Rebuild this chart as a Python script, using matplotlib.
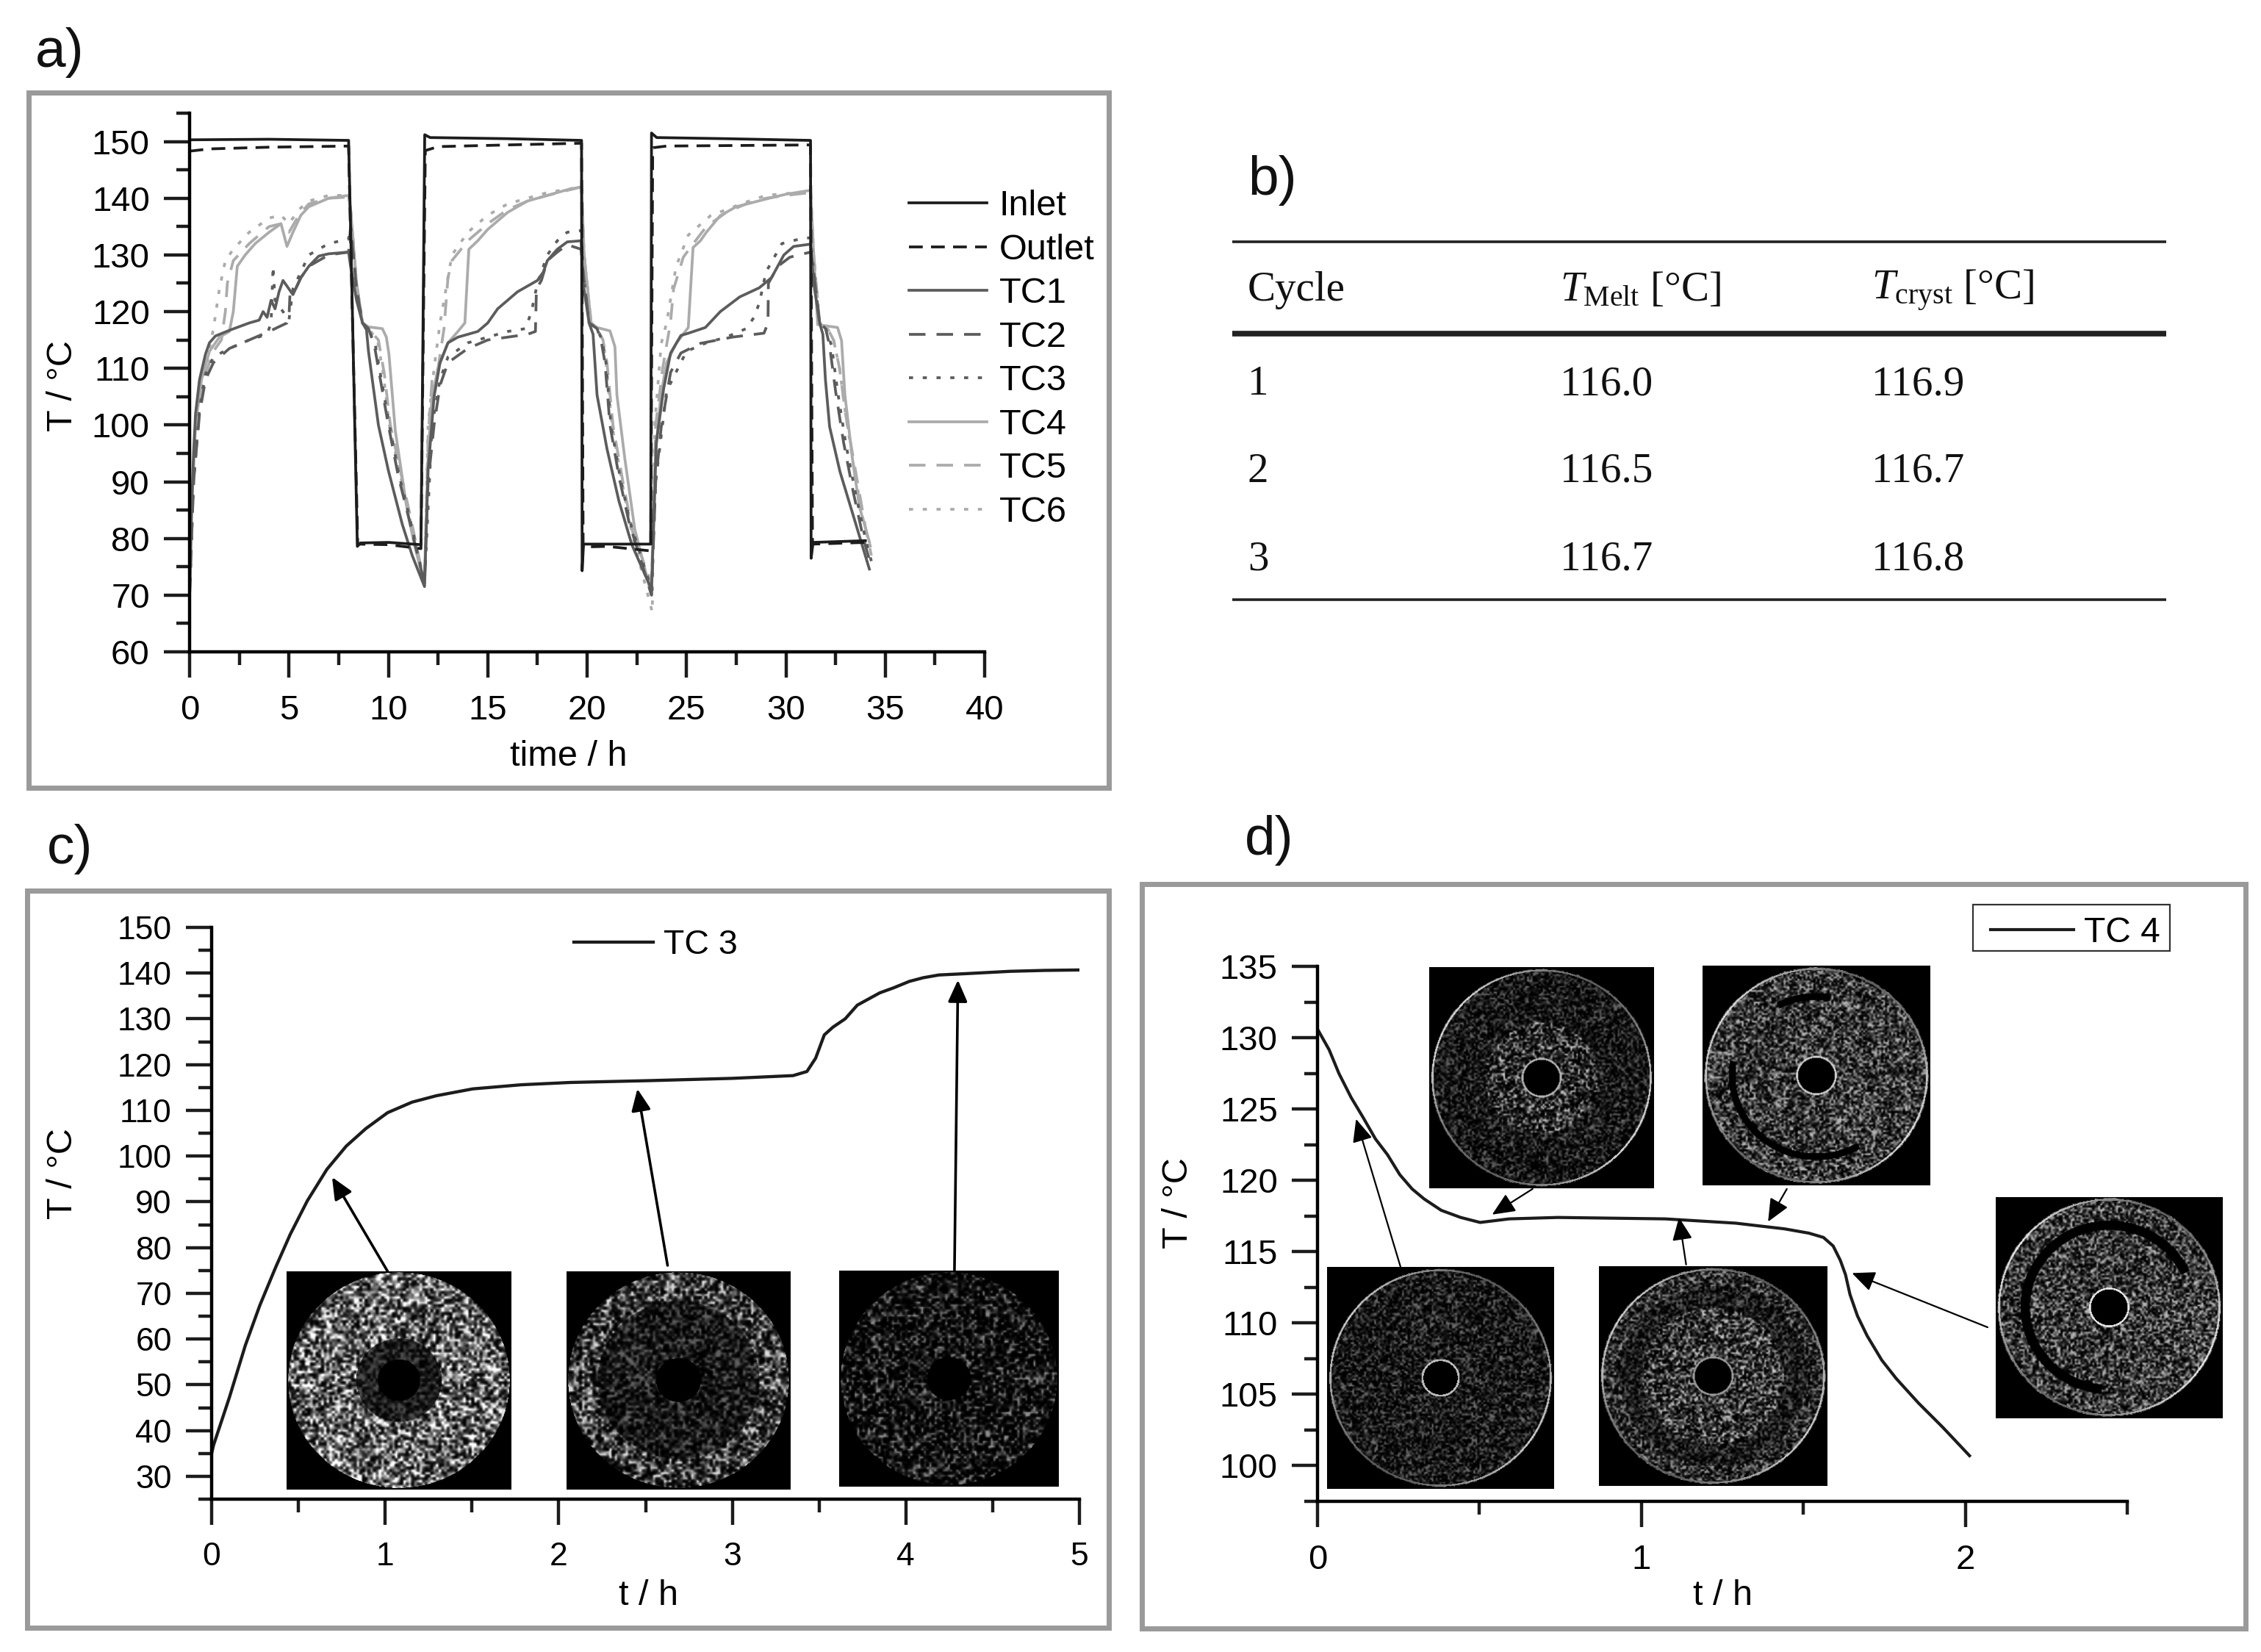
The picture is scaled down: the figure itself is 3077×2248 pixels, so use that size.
import numpy as np
import matplotlib
matplotlib.use("Agg")
import matplotlib.pyplot as plt
from matplotlib.patches import Rectangle
from matplotlib.ticker import MultipleLocator

plt.rcParams['font.family'] = ['Liberation Sans', 'DejaVu Sans']
plt.rcParams['mathtext.fontset'] = 'custom'
plt.rcParams['mathtext.rm'] = 'Liberation Serif'
plt.rcParams['mathtext.it'] = 'Liberation Serif:italic'

W, H = 3077, 2248
DARK = '#1c1c1c'
MID = '#5c5c5c'
LIGHT = '#ababab'

# panel a: (time / h, T / degC)
inlet = [(0, 150.3), (4, 150.4), (8.0, 150.2), (8.1, 135), (8.44, 78.6), (8.6, 79.2), (10, 79.3), (11.64, 78.9),
         (11.7, 100), (11.83, 151.2), (12.1, 150.7), (16, 150.5), (19.72, 150.2), (19.75, 74.3), (19.82, 79), (23.2, 79),
         (23.24, 151.5), (23.5, 150.7), (27, 150.5), (31.24, 150.2), (31.27, 76.5), (31.37, 79.3), (34, 79.6)]
outlet = [(0, 148.3), (1, 148.7), (4, 149), (8.0, 149.2), (8.12, 130), (8.46, 79), (10, 78.9), (11.64, 78.2),
          (11.86, 148.4), (12.5, 149.1), (16, 149.4), (19.72, 149.7), (19.8, 78.5), (21, 78.6), (23.2, 77.8),
          (23.3, 148.9), (24, 149.2), (31.24, 149.4), (31.34, 79), (34, 79.3)]
tc1 = [(0, 70), (0.1, 85), (0.2, 95), (0.3, 102), (0.5, 108), (0.8, 112.5), (1, 114.5), (1.3, 115.7), (2, 116.7), (3, 118),
       (3.5, 118.5), (3.7, 120), (3.9, 119), (4.1, 122), (4.3, 120.5), (4.5, 123.5), (4.7, 125.5), (4.9, 124.5), (5.2, 123),
       (5.6, 126), (6, 128), (6.5, 129.8), (7, 130.2), (8, 130.5), (8.1, 128), (8.4, 122), (8.7, 118), (8.9, 116.8), (9, 113),
       (9.5, 100), (10, 92), (10.7, 82.5), (11.2, 77), (11.82, 71.5),
       (12, 92), (12.3, 105), (12.6, 111), (13, 114.5), (13.5, 115.5), (14.5, 116.5), (15, 118), (15.5, 120.5), (16, 122),
       (16.5, 123.5), (17, 124.5), (17.5, 125.5), (17.8, 127), (18, 129), (18.5, 131), (19, 132.3), (19.7, 132.5),
       (19.8, 125), (20.1, 118), (20.3, 116), (20.5, 105.3), (21, 95.8), (21.6, 86.6), (22.25, 78.9), (23.24, 71),
       (23.48, 96.9), (23.85, 106.4), (24.2, 112.7), (24.72, 115.8), (25.1, 116.2), (25.95, 117.2), (26.7, 120), (27.68, 122.6),
       (28.66, 124.2), (29.28, 126), (29.9, 130), (30.39, 131.5), (31.24, 131.9),
       (31.4, 125), (31.7, 118), (31.86, 116), (31.99, 108), (32.2, 99.7), (32.72, 91.8), (33.35, 84.5), (34.2, 74.6)]
tc2 = [(0, 70), (0.2, 90), (0.5, 102), (0.8, 108), (1.2, 111), (2, 113.5), (3, 115), (4, 116.5), (4.9, 118), (5, 119),
       (5.05, 123), (5.2, 123), (5.6, 126), (6, 128), (7, 130), (8, 130.5), (8.1, 135), (8.4, 124), (8.7, 118), (9, 117),
       (9.3, 114), (9.6, 108), (10, 100), (10.5, 91), (11, 84), (11.82, 72),
       (12, 90), (12.3, 100), (12.6, 107), (13, 111), (14, 113.5), (15, 115), (16, 115.5), (17, 116), (17.4, 116.5),
       (17.45, 124), (17.7, 125.5), (18, 129), (18.5, 130.5), (19, 131.8), (19.7, 131),
       (19.8, 127), (20.1, 118), (20.5, 117), (20.7, 115), (20.9, 111), (21.15, 100), (21.6, 91), (22.1, 83), (23.24, 70),
       (23.45, 90), (23.73, 99.7), (24.2, 109.3), (24.72, 112.7), (25.7, 114.4), (27.3, 115.5), (28.9, 116.2),
       (29.1, 118), (29.12, 125), (29.6, 128), (30.2, 129.6), (31.24, 130.5),
       (31.4, 127), (31.7, 118), (32, 117), (32.2, 114), (32.5, 106), (32.9, 97), (33.4, 88), (33.9, 80), (34.3, 75)]
tc3 = [(0, 70), (0.2, 90), (0.5, 103), (0.8, 109), (1.2, 112), (2, 113.5), (3, 115), (3.9, 116), (4.1, 118), (4.2, 128),
       (4.3, 122), (5, 118.5), (5.2, 124), (5.6, 127), (6, 130), (7, 132), (8, 132.8), (8.1, 135), (8.4, 124), (8.7, 118),
       (9, 117), (9.35, 114), (9.65, 108), (10.05, 100), (10.55, 91), (11.05, 84), (11.82, 72),
       (12.2, 100), (12.6, 108), (13, 112), (14, 114.5), (15, 115.5), (16, 116.5), (16.9, 117), (17.2, 120), (17.5, 125),
       (18, 130), (18.5, 132.5), (19, 134), (19.7, 134.3), (19.8, 127), (20.1, 118), (20.5, 117), (20.75, 115), (20.95, 111),
       (21.2, 100), (21.65, 91), (22.15, 83), (23.24, 71),
       (23.45, 90), (24, 106), (25, 113), (26, 114.5), (27, 115.5), (28, 117), (28.4, 119), (28.67, 121.6), (29, 127),
       (29.8, 132), (30.9, 133), (31.24, 133), (31.4, 127), (31.7, 118), (32, 117), (32.3, 114), (32.6, 106), (33, 97),
       (33.5, 88), (34, 80), (34.3, 76)]
tc4 = [(0, 70), (0.1, 85), (0.3, 100), (0.6, 108), (1, 113), (1.5, 115.5), (2, 116.5), (2.2, 120), (2.4, 128), (2.8, 130),
       (3.3, 132), (4, 134), (4.6, 135.5), (4.9, 131.5), (5.2, 134), (5.6, 137), (6, 138.5), (7, 140), (8, 140.5),
       (8.1, 138), (8.4, 125), (8.7, 118), (9, 117.3), (9.7, 117), (9.9, 115.5), (10.03, 112.5), (10.35, 99), (10.9, 86),
       (11.3, 79), (11.82, 72),
       (12, 95), (12.2, 105), (12.5, 110), (13, 114.5), (13.5, 116.5), (13.85, 118), (14.05, 131), (14.5, 132.5),
       (15, 134.5), (16, 137.5), (17, 139.5), (18, 140.5), (19, 141.5), (19.72, 142),
       (19.85, 130), (20.2, 118), (20.5, 117.2), (21.15, 116.6), (21.4, 113.8), (21.5, 105.3), (21.9, 94), (22.4, 81.6), (23.24, 70),
       (23.45, 95), (23.7, 105), (24, 111), (24.5, 114.5), (25.09, 117.2), (25.33, 131.3), (25.7, 132.5), (26, 134),
       (26.69, 136.9), (27.5, 138.5), (29.16, 140), (30, 140.7), (31.24, 141.4),
       (31.4, 130), (31.6, 117.7), (32.6, 117.2), (32.8, 114.9), (32.97, 105.3), (33.35, 94), (33.7, 85.6), (34.2, 79.4)]
tc5 = [(0, 70), (0.2, 90), (0.5, 103), (0.8, 109), (1.2, 113), (1.6, 115), (1.8, 120), (1.9, 125), (2.2, 129), (3, 132),
       (4, 135), (4.6, 135.5), (5, 134), (5.5, 137), (6, 139), (7, 140), (8, 140.2), (8.1, 138), (8.4, 125), (8.7, 118),
       (9, 117), (9.5, 115), (9.8, 109), (10.1, 100), (10.6, 92), (11.1, 84), (11.82, 72),
       (12, 98), (12.2, 108), (12.5, 110), (12.8, 117), (13, 126), (13.2, 129), (14, 132.5), (15, 135.5), (16, 138),
       (17, 139.5), (18, 140.5), (19.72, 142), (19.85, 130), (20.2, 118), (20.5, 117), (20.8, 115), (21, 111), (21.3, 100),
       (21.8, 90), (22.3, 81), (23.24, 72),
       (23.45, 100), (23.8, 110), (24.2, 118.2), (24.35, 124), (24.84, 129.6), (25.3, 131.8), (26, 135), (27, 137.5), (28, 139),
       (29, 140), (30, 140.5), (31.24, 141), (31.4, 130), (31.7, 118), (32.1, 117), (32.4, 115), (32.7, 110), (33, 102),
       (33.5, 92), (34, 82), (34.3, 77)]
tc6 = [(0, 70), (0.2, 92), (0.5, 104), (0.8, 110), (1.2, 117), (1.5, 124), (1.8, 129), (2.2, 131), (3, 134), (4, 136.5),
       (4.6, 137), (5, 135.5), (5.5, 138), (6, 139.5), (7, 140.5), (8, 140.5), (8.1, 138), (8.4, 125), (8.7, 118),
       (9, 117), (9.45, 115), (9.75, 109), (10.05, 100), (10.55, 92), (11.05, 84), (11.82, 72),
       (12, 100), (12.3, 110), (12.6, 118), (12.9, 124), (13.2, 130), (14, 134), (15, 137), (16, 139), (17, 140), (18, 141),
       (19.72, 142), (19.85, 130), (20.2, 118), (20.5, 117), (20.8, 115), (20.95, 111), (21.25, 100), (21.75, 90), (22.25, 81),
       (23.28, 67),
       (23.4, 100), (23.73, 114.4), (24, 118), (24.47, 127.9), (25.09, 133.5), (26.2, 136.9), (27.9, 139.2), (29, 140.5),
       (31.24, 141.2), (31.4, 130), (31.7, 118), (32.1, 117), (32.4, 115), (32.7, 110), (33, 102), (33.4, 93),
       (33.9, 83), (34.3, 78)]

# panel b
cycles = ['1', '2', '3']
t_melt = ['116.0', '116.5', '116.7']
t_cryst = ['116.9', '116.7', '116.8']

# panel c
tc3_time = [0, 0.011, 0.102, 0.194, 0.278, 0.369, 0.453, 0.551, 0.664, 0.776, 0.888, 1.014, 1.155, 1.295, 1.505, 1.785,
            2.066, 2.52, 3.0, 3.35, 3.43, 3.48, 3.53, 3.58, 3.65, 3.72, 3.85, 3.93, 4.02, 4.1, 4.19, 4.35, 4.6, 4.8, 5]
tc3_temp = [35, 36.8, 47.2, 58.6, 67.4, 75.7, 82.9, 90.2, 97.1, 102.2, 106, 109.5, 111.8, 113.2, 114.7, 115.6,
            116.1, 116.5, 117, 117.6, 118.5, 121.4, 126.5, 128.2, 130, 133, 135.7, 136.8, 138.2, 139, 139.6, 139.9, 140.4,
            140.6, 140.7]
c_arrow_tail = [(1.014, 74.8), (2.627, 76.1), (4.28, 75)]
c_arrow_tip = [(0.694, 95.4), (2.453, 114.7), (4.3, 138.5)]

# panel d
tc4_time = [0, 0.036, 0.066, 0.104, 0.141, 0.179, 0.216, 0.254, 0.292, 0.329, 0.382, 0.442, 0.502, 0.592, 0.742, 1.073,
            1.291, 1.366, 1.442, 1.517, 1.562, 1.592, 1.614, 1.63, 1.644, 1.667, 1.697, 1.742, 1.787, 1.855, 1.93, 2.013]
tc4_temp = [130.6, 129.15, 127.5, 125.8, 124.4, 122.9, 121.8, 120.4, 119.4, 118.7, 117.9, 117.4, 117.05, 117.3, 117.4, 117.3,
            117, 116.8, 116.6, 116.3, 116, 115.4, 114.4, 113.4, 112, 110.5, 109.1, 107.4, 106.1, 104.4, 102.7, 100.7]
d_arrow_tail = [(0.256, 113.96), (0.664, 119.4), (1.138, 114.1), (1.449, 119.4), (2.069, 109.7)]
d_arrow_tip = [(0.119, 124.3), (0.539, 117.6), (1.116, 117.4), (1.391, 117.1), (1.65, 113.5)]

fig = plt.figure(figsize=(W / 100, H / 100), dpi=100, facecolor='white')


def px_axes(left, top, right, bottom, **kw):
    return fig.add_axes([left / W, 1 - bottom / H, (right - left) / W, (bottom - top) / H], **kw)


# whole figure in pixels, for the frames, panel letters and table
page = px_axes(0, 0, W, H, zorder=0)
page.set_xlim(0, W)
page.set_ylim(H, 0)
page.axis('off')

for x0, y0, x1, y1 in [(39, 126, 1509, 1072), (37, 1212, 1509, 2215), (1554, 1203, 3056, 2216)]:
    page.add_patch(Rectangle((x0, y0), x1 - x0, y1 - y0, fill=False, ec='#9a9a9a', lw=5))

for s, x, y in [('a)', 48, 71), ('b)', 1698, 246), ('c)', 64, 1156), ('d)', 1694, 1143)]:
    page.text(x, y, s, fontsize=54, va='center', ha='left', color='#111111')

# table b
for y, lw in [(329, 2.6), (454, 5.5), (816, 2.6)]:
    page.plot([1677, 2948], [y, y], color='#222222', lw=lw, solid_capstyle='butt')
serif = dict(fontsize=41, family='Liberation Serif', va='center', ha='left', color='#111111')
page.text(1698, 395, 'Cycle', **serif)
page.text(2123, 395, r'$\mathit{T}_{\mathrm{Melt}}$ [°C]', **serif)
page.text(2547, 395, r'$\mathit{T}_{\mathrm{cryst}}$ [°C]', **serif)
for i, y in enumerate([523, 642, 762]):
    page.text(1698, y, cycles[i], **serif)
    page.text(2123, y, t_melt[i], **serif)
    page.text(2547, y, t_cryst[i], **serif)


def style_axes(ax, fs):
    ax.patch.set_visible(False)
    ax.spines['top'].set_visible(False)
    ax.spines['right'].set_visible(False)
    ax.spines['left'].set_linewidth(3.2)
    ax.spines['bottom'].set_linewidth(3.2)
    ax.tick_params(which='major', length=25, width=3.2, labelsize=fs, pad=14, color=DARK)
    ax.tick_params(which='minor', length=13, width=3.2, color=DARK)
    ax.tick_params(axis='x', which='major', pad=17)


# panel a
ax_a = px_axes(258, 154, 1340, 887, zorder=2)
style_axes(ax_a, 34)
a_styles = [(inlet, 'Inlet', DARK, '-'), (outlet, 'Outlet', DARK, (0, (5, 3))),
            (tc1, 'TC1', MID, '-'), (tc2, 'TC2', MID, (0, (6, 4))), (tc3, 'TC3', MID, (0, (1.5, 3.5))),
            (tc4, 'TC4', LIGHT, '-'), (tc5, 'TC5', LIGHT, (0, (6, 4))), (tc6, 'TC6', LIGHT, (0, (1.5, 3.5)))]
handles = []
for pts, name, col, ls in a_styles[::-1]:
    tt, vv = np.array(pts).T
    ln, = ax_a.plot(tt, vv, color=col, ls=ls, lw=2.7, label=name)
    handles.insert(0, ln)
ax_a.set_xlim(0, 40)
ax_a.set_ylim(60, 155)
ax_a.xaxis.set_major_locator(MultipleLocator(5))
ax_a.xaxis.set_minor_locator(MultipleLocator(2.5))
ax_a.yaxis.set_major_locator(MultipleLocator(10))
ax_a.yaxis.set_minor_locator(MultipleLocator(5))
fig.legend(handles=handles, fontsize=35, frameon=False, loc='upper left', bbox_to_anchor=(1237 / W, 1 - 258 / H),
           borderpad=0, borderaxespad=0, labelspacing=0.3, handlelength=2.18, handletextpad=0.35)
page.text(86, 525, 'T / °C', fontsize=35, rotation=90, ha='center', va='center')
page.text(774, 1029, 'time / h', fontsize=35, ha='center', va='center')


def upsample(a, size):
    old = np.linspace(0, 1, a.shape[0])
    new = np.linspace(0, 1, size)
    rows = np.array([np.interp(new, old, row) for row in a])
    return np.array([np.interp(new, old, col) for col in rows.T]).T


# speckled disc pictures: zones give (outer radius, brightness) from the hole outwards
def disc_picture(seed, zones, hole=0.17, rim=0.0, hole_rim=0.0, gaps=(), cell=3.0, power=2.5, size=300):
    n = int(size / cell)
    yy, xx = np.mgrid[0:n, 0:n]
    hash_val = np.sin(xx * 12.9898 + yy * 78.233 + seed * 37.719) * 43758.5453
    noise = upsample(hash_val - np.floor(hash_val), size)
    yy, xx = np.mgrid[0:size, 0:size]
    u = (xx + 0.5) / size * 2 - 1
    v = (yy + 0.5) / size * 2 - 1
    r = np.hypot(u, v)
    ang = np.degrees(np.arctan2(-v, u)) % 360
    level = np.zeros_like(r)
    inner = hole
    for outer, b in zones:
        level[(r >= inner) & (r < outer)] = b
        inner = outer
    img = np.clip(noise ** power * 1.25, 0, 1) * level
    for g_r, g_w, a0, a1 in gaps:
        arc = (np.abs(r - g_r) < g_w) & (((ang - a0) % 360) < ((a1 - a0) % 360))
        img[arc] = 0
    if rim:
        fade = 0.45 + 0.55 * np.cos(np.radians(ang - 330)) ** 2
        ring = np.abs(r - 0.97) < 0.008
        img[ring] = (rim * fade)[ring]
    if hole_rim:
        img[np.abs(r - hole) < 0.009] = hole_rim
    img[r >= 0.985] = 0
    return img


def add_picture(box, img):
    ax = px_axes(*box, zorder=1)
    ax.imshow(img, cmap='gray', vmin=0, vmax=1, interpolation='bilinear', aspect='auto')
    ax.axis('off')


c_boxes = [(390, 1730, 696, 2027), (771, 1730, 1075, 2027), (1142, 1729, 1441, 2023)]
add_picture(c_boxes[0], disc_picture(1, [(0.38, 0.3), (1, 1.0)], hole=0.19, cell=3.6, power=1.7))
add_picture(c_boxes[1], disc_picture(2, [(0.72, 0.38), (1, 0.85)], hole=0.2, cell=3.6, power=2.2))
add_picture(c_boxes[2], disc_picture(3, [(1, 0.55)], hole=0.2, cell=3.6, power=3.2))

d_boxes = [(1945, 1316, 2251, 1617), (2317, 1314, 2627, 1613), (1806, 1724, 2115, 2026), (2176, 1723, 2487, 2022),
           (2716, 1629, 3025, 1930)]
add_picture(d_boxes[0], disc_picture(4, [(0.5, 0.75), (1, 0.4)], rim=0.85, hole_rim=0.7, cell=2.6))
add_picture(d_boxes[1], disc_picture(5, [(1, 0.7)], rim=0.85, hole_rim=0.8, cell=2.6, power=2.0,
                                     gaps=[(0.72, 0.03, 80, 118), (0.74, 0.03, 170, 300)]))
add_picture(d_boxes[2], disc_picture(6, [(1, 0.42)], hole=0.16, rim=0.8, hole_rim=0.75, cell=2.6))
add_picture(d_boxes[3], disc_picture(7, [(0.62, 0.75), (0.82, 0.38), (1, 0.6)], rim=0.8, hole_rim=0.6, cell=2.6, power=2.2))
add_picture(d_boxes[4], disc_picture(8, [(1, 0.7)], rim=0.9, hole_rim=0.9, cell=2.6, power=2.0,
                                     gaps=[(0.74, 0.042, 25, 265)]))

# panel c
ax_c = px_axes(288, 1262, 1469, 2040, zorder=2)
style_axes(ax_c, 32)
line_c, = ax_c.plot(tc3_time, tc3_temp, color=DARK, lw=3.1, label='TC 3')
ax_c.set_xlim(0, 5)
ax_c.set_ylim(25, 150)
ax_c.xaxis.set_major_locator(MultipleLocator(1))
ax_c.xaxis.set_minor_locator(MultipleLocator(0.5))
ax_c.yaxis.set_major_locator(MultipleLocator(10))
ax_c.yaxis.set_minor_locator(MultipleLocator(5))
for tail, tip in zip(c_arrow_tail, c_arrow_tip):
    ax_c.annotate('', xy=tip, xytext=tail,
                  arrowprops=dict(arrowstyle='-|>,head_length=0.9,head_width=0.4', color='black', lw=2.6,
                                  shrinkA=0, shrinkB=0, mutation_scale=20))
fig.legend(handles=[line_c], fontsize=33.5, frameon=False, loc='center left', bbox_to_anchor=(781 / W, 1 - 1286 / H),
           borderpad=0, borderaxespad=0, handlelength=2.32, handletextpad=0.3)
page.text(86, 1597, 'T / °C', fontsize=35, rotation=90, ha='center', va='center')
page.text(882, 2172, 't / h', fontsize=35, ha='center', va='center')

# panel d
ax_d = px_axes(1793, 1315, 2895, 2043, zorder=2)
style_axes(ax_d, 34)
line_d, = ax_d.plot(tc4_time, tc4_temp, color=DARK, lw=3, label='TC 4')
ax_d.set_xlim(0, 2.5)
ax_d.set_ylim(97.5, 135)
ax_d.xaxis.set_major_locator(MultipleLocator(1))
ax_d.xaxis.set_minor_locator(MultipleLocator(0.5))
ax_d.yaxis.set_major_locator(MultipleLocator(5))
ax_d.yaxis.set_minor_locator(MultipleLocator(2.5))
for tail, tip in zip(d_arrow_tail, d_arrow_tip):
    ax_d.annotate('', xy=tip, xytext=tail,
                  arrowprops=dict(arrowstyle='-|>,head_length=0.95,head_width=0.42', color='black', lw=1.6,
                                  shrinkA=0, shrinkB=0, mutation_scale=20))
page.add_patch(Rectangle((2685, 1231), 268, 63, fill=False, ec='#333333', lw=1.6))
fig.legend(handles=[line_d], fontsize=34.5, frameon=False, loc='center left', bbox_to_anchor=(2709 / W, 1 - 1269 / H),
           borderpad=0, borderaxespad=0, handlelength=2.36, handletextpad=0.29)
page.text(1604, 1637, 'T / °C', fontsize=35, rotation=90, ha='center', va='center')
page.text(2344, 2171, 't / h', fontsize=35, ha='center', va='center')

fig.savefig('out.png', dpi=100, facecolor='white')
